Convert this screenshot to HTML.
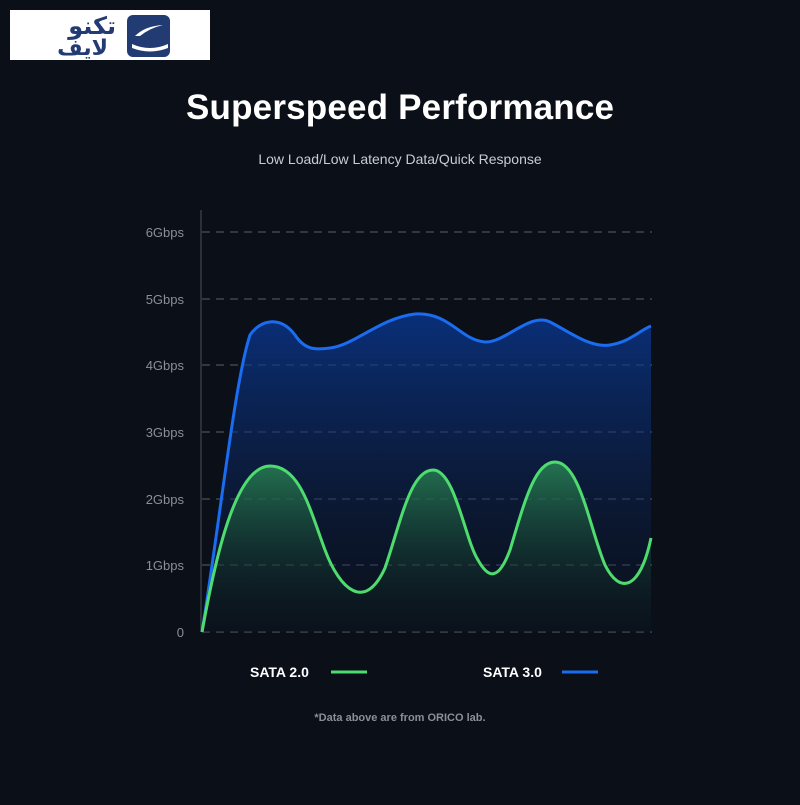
<!DOCTYPE html>
<html><head><meta charset="utf-8"><style>
body{margin:0;background:#0b0f17;width:800px;height:800px;overflow:hidden;font-family:"Liberation Sans",sans-serif;}
</style></head><body>
<svg width="800" height="800" xmlns="http://www.w3.org/2000/svg">
<defs>
<linearGradient id="gb" x1="0" y1="0" x2="0" y2="1"><stop offset="0" stop-color="#0a3a9a" stop-opacity="0.75"/><stop offset="1" stop-color="#0b1830" stop-opacity="0.2"/></linearGradient>
<linearGradient id="gg" x1="0" y1="0" x2="0" y2="1"><stop offset="0" stop-color="#2a8a55" stop-opacity="0.8"/><stop offset="1" stop-color="#0b1a18" stop-opacity="0.1"/></linearGradient>
</defs>
<rect width="800" height="800" fill="#0b0f17"/>
<rect x="10" y="10" width="200" height="50" fill="#fff"/>
<rect x="127" y="15" width="43" height="42" rx="6" fill="#233b73"/>
<path d="M135 36 Q145 26 163 25 Q150 28 140 36 Z M132 44 Q150 52 168 44 L168 48 Q150 55 132 48 Z" fill="#fff"/>
<text x="116" y="34" font-size="24" font-weight="bold" fill="#233b73" text-anchor="end" font-family="'DejaVu Sans',sans-serif">تكنو</text>
<text x="108" y="55" font-size="22" font-weight="bold" fill="#233b73" text-anchor="end" font-family="'DejaVu Sans',sans-serif">لايف</text>
<text x="400" y="119" font-size="35" font-weight="bold" fill="#fff" text-anchor="middle" textLength="428">Superspeed Performance</text>
<text x="400" y="164" font-size="14" fill="#c8ccd4" text-anchor="middle">Low Load/Low Latency Data/Quick Response</text>
<g stroke="#4a4f58" stroke-dasharray="8,6" stroke-width="1.2">
<line x1="202" y1="232" x2="652" y2="232"/><line x1="202" y1="299" x2="652" y2="299"/><line x1="202" y1="365" x2="652" y2="365"/><line x1="202" y1="432" x2="652" y2="432"/><line x1="202" y1="499" x2="652" y2="499"/><line x1="202" y1="565" x2="652" y2="565"/><line x1="202" y1="632" x2="652" y2="632"/>
</g>
<line x1="201" y1="210" x2="201" y2="632" stroke="#4a4f58"/>
<g font-size="13" fill="#8a8f98" text-anchor="end">
<text x="184" y="237">6Gbps</text><text x="184" y="304">5Gbps</text><text x="184" y="370">4Gbps</text><text x="184" y="437">3Gbps</text><text x="184" y="504">2Gbps</text><text x="184" y="570">1Gbps</text><text x="184" y="637">0</text>
</g>
<path d="M202 632 C220 520 235 380 250 335 C260 320 280 315 295 335 C305 350 315 350 330 348 C355 345 380 318 415 314 C450 312 460 340 485 342 C505 343 530 312 550 322 C570 332 590 348 610 345 C630 342 640 330 651 326 L651 632 Z" fill="url(#gb)"/>
<path d="M202 632 C220 520 235 380 250 335 C260 320 280 315 295 335 C305 350 315 350 330 348 C355 345 380 318 415 314 C450 312 460 340 485 342 C505 343 530 312 550 322 C570 332 590 348 610 345 C630 342 640 330 651 326" fill="none" stroke="#1a6cf0" stroke-width="3"/>
<path d="M202 632 C215 560 235 466 270 466 C300 466 310 510 325 550 C340 590 365 612 385 568 C400 525 410 470 433 470 C455 470 465 540 478 560 C488 578 498 582 510 550 C525 500 535 462 555 462 C580 462 590 530 605 565 C620 595 640 590 651 538 L651 632 Z" fill="url(#gg)"/>
<path d="M202 632 C215 560 235 466 270 466 C300 466 310 510 325 550 C340 590 365 612 385 568 C400 525 410 470 433 470 C455 470 465 540 478 560 C488 578 498 582 510 550 C525 500 535 462 555 462 C580 462 590 530 605 565 C620 595 640 590 651 538" fill="none" stroke="#4fdc6e" stroke-width="3"/>
<text x="250" y="677" font-size="14" font-weight="bold" fill="#fff">SATA 2.0</text>
<line x1="331" y1="672" x2="367" y2="672" stroke="#4fdc6e" stroke-width="3"/>
<text x="483" y="677" font-size="14" font-weight="bold" fill="#fff">SATA 3.0</text>
<line x1="562" y1="672" x2="598" y2="672" stroke="#1a6cf0" stroke-width="3"/>
<text x="400" y="721" font-size="11" font-weight="bold" fill="#8a8f98" text-anchor="middle">*Data above are from ORICO lab.</text>
</svg>
</body></html>
